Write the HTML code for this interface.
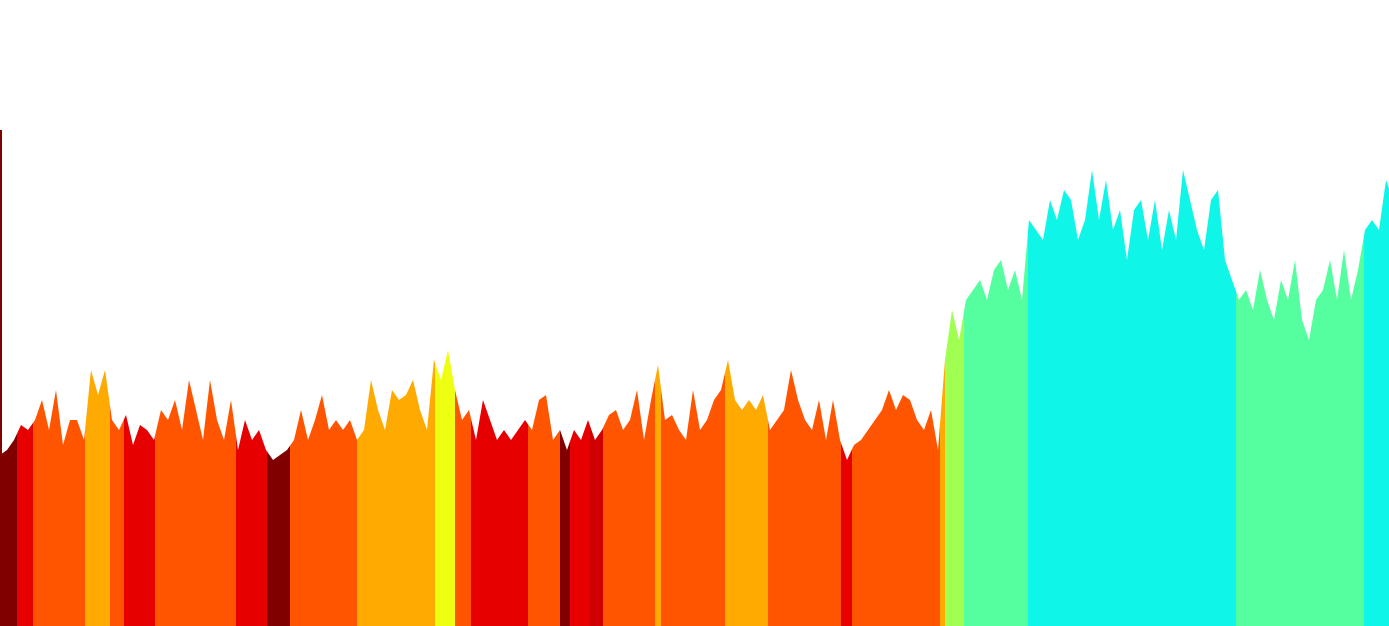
<!DOCTYPE html>
<html><head><meta charset="utf-8"><style>
html,body{margin:0;padding:0;background:#fff;width:1389px;height:626px;overflow:hidden}
svg{display:block}
</style></head><body>
<svg id="chart" width="1389" height="626" viewBox="0 0 1389 626"></svg>
<script>
// sample values, one every 7 px along x
const values = [171,176,186,201,196,206,226,196,236,181,206,206,186,256,231,256,206,196,211,181,201,196,186,216,206,226,196,246,216,186,246,206,186,226,176,206,186,196,176,166,171,176,186,216,186,206,231,196,206,196,206,186,196,246,216,196,236,226,231,246,216,196,266,246,276,236,206,216,186,226,206,186,196,186,196,206,196,226,231,186,196,176,196,186,206,186,196,211,216,196,206,236,186,226,261,206,211,196,186,236,196,206,226,236,266,226,216,226,216,231,196,206,216,256,226,206,196,226,186,226,186,166,181,186,196,206,216,236,216,231,226,206,196,216,176,266,316,286,326,336,346,326,356,366,336,356,326,406,396,386,426,406,436,426,386,406,456,406,446,396,416,366,416,426,386,426,376,416,386,456,426,396,376,426,436,366,346,326,336,316,356,326,306,346,326,366,306,286,326,336,366,326,376,326,356,396,406,396,446,426];
// segment categories: start x (px along axis) and colour
const segStarts = [0,17,33,85,110,124,155,236,267,290,357,435,455,471,528,560,570,590,603,655,661,725,768,841,852,940,945,964,1028,1236,1364];
const segColors = ["#800000","#e60000","#ff5500","#ffaa00","#ff5500","#e60000","#ff5500","#e60000","#800000","#ff5500","#ffaa00","#eeff11","#ff5500","#e60000","#ff5500","#800000","#e60000","#d00000","#ff5500","#ffaa00","#ff5500","#ffaa00","#ff5500","#e60000","#ff5500","#ffaa00","#a0ff50","#55ff9f","#0ff5e8","#55ff9f","#0ff5e8"];
const W=1389,H=626,STEP=7;
const xScale = i => i*STEP;
const yScale = v => H - v;
function valAt(x){const f=x/STEP;const i=Math.min(Math.floor(f),values.length-2);const t=Math.min(f-i,1);return values[i]*(1-t)+values[i+1]*t;}
const svg=document.getElementById('chart');
const NS='http://www.w3.org/2000/svg';
for(let s=0;s<segStarts.length;s++){
  const x0=segStarts[s], x1=(s+1<segStarts.length?segStarts[s+1]:W);
  let pts=[[x0,H],[x0,yScale(valAt(x0))]];
  for(let i=0;i<values.length;i++){const x=xScale(i);if(x>x0&&x<x1)pts.push([x,yScale(values[i])]);}
  pts.push([x1,yScale(valAt(x1))]);pts.push([x1,H]);
  const p=document.createElementNS(NS,'polygon');
  p.setAttribute('points',pts.map(q=>q.join(',')).join(' '));
  p.setAttribute('fill',segColors[s]);
  
  
  svg.appendChild(p);
}
const spike=document.createElementNS(NS,'rect');
spike.setAttribute('x',0);spike.setAttribute('y',130);spike.setAttribute('width',2);spike.setAttribute('height',330);spike.setAttribute('fill','#800000');


svg.appendChild(spike);
</script>
</body></html>
